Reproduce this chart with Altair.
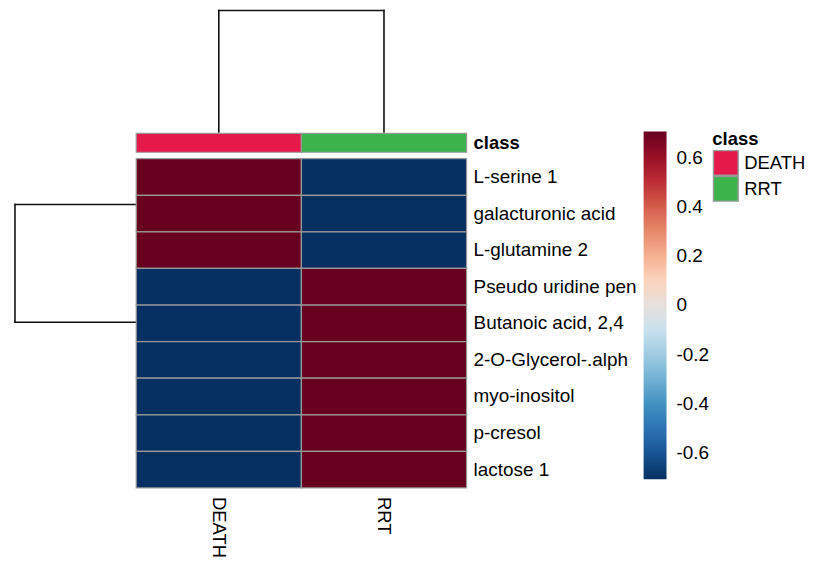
import altair as alt
import pandas as pd

# ---------------- data ----------------
columns = ["DEATH", "RRT"]
classes = ["DEATH", "RRT"]
class_colors = ["#E6194B", "#3CB44B"]
rows = [
    "L-serine 1", "galacturonic acid", "L-glutamine 2", "Pseudo uridine pen",
    "Butanoic acid, 2,4", "2-O-Glycerol-.alph", "myo-inositol", "p-cresol", "lactose 1",
]
death_vals = [0.7071, 0.7071, 0.7071, -0.7071, -0.7071, -0.7071, -0.7071, -0.7071, -0.7071]
rrt_vals = [-0.7071, -0.7071, -0.7071, 0.7071, 0.7071, 0.7071, 0.7071, 0.7071, 0.7071]
rdbu_rev = ["#053061", "#2166AC", "#4393C3", "#92C5DE", "#D1E5F0",
            "#FDDBC7", "#F4A582", "#D6604D", "#B2182B", "#67001F"]
legend_ticks = [0.6, 0.4, 0.2, 0, -0.2, -0.4, -0.6]

# hclust-style merges: (left, right, height); negative = leaf (1-based), positive = merge (1-based)
col_merges = [(-1, -2, 1.0)]
row_merges = [(-2, -3, 0.0), (-1, 1, 0.0), (-8, -9, 0.0), (-7, 3, 0.0),
              (-6, 4, 0.0), (-5, 5, 0.0), (-4, 6, 0.0), (2, 7, 1.0)]

# ---------------- layout (in cell units) ----------------
W, H = 798, 546
X_DOM = [-0.7762, -0.7762 + W / 165.8]
Y_DOM = [-4.0913, -4.0913 + H / 36.72]
ANN_Y0, ANN_Y1 = -0.694, -0.177
COL_TREE_BASE, COL_TREE_SCALE = -0.730, 3.32
ROW_TREE_SCALE = 0.734
FONT = "Liberation Sans"
FS = 19.0


def tree_segments(merges):
    pos, hgt, segs = {}, {}, []

    def get(c):
        if c < 0:
            return -c - 0.5, 0.0
        return pos[c], hgt[c]

    for i, (a, b, h) in enumerate(merges, start=1):
        pa, ha = get(a)
        pb, hb = get(b)
        if h > ha:
            segs.append((pa, ha, pa, h))
        if h > hb:
            segs.append((pb, hb, pb, h))
        if h > 0:
            segs.append((pa, h, pb, h))
        pos[i], hgt[i] = (pa + pb) / 2, h
    return segs


seg_rows = []
for p1, h1, p2, h2 in tree_segments(col_merges):
    seg_rows.append(dict(x=p1, y=COL_TREE_BASE - h1 * COL_TREE_SCALE,
                         x2=p2, y2=COL_TREE_BASE - h2 * COL_TREE_SCALE))
for p1, h1, p2, h2 in tree_segments(row_merges):
    seg_rows.append(dict(x=-h1 * ROW_TREE_SCALE, y=p1, x2=-h2 * ROW_TREE_SCALE, y2=p2))
seg_df = pd.DataFrame(seg_rows)

cells = []
for ci, (cname, vals) in enumerate(zip(columns, [death_vals, rrt_vals])):
    for ri, (rname, v) in enumerate(zip(rows, vals)):
        cells.append(dict(x=ci, x2=ci + 1, y=ri, y2=ri + 1, value=v, row=rname, col=cname))
cell_df = pd.DataFrame(cells)

ann_df = pd.DataFrame([dict(x=i, x2=i + 1, y=ANN_Y0, y2=ANN_Y1, cls=c) for i, c in enumerate(classes)])
rowlab_df = pd.DataFrame([dict(x=len(columns), y=i + 0.5, label=r) for i, r in enumerate(rows)])
collab_df = pd.DataFrame([dict(x=i + 0.5, y=len(rows), label=c) for i, c in enumerate(columns)])
anntitle_df = pd.DataFrame([dict(x=len(columns), y=(ANN_Y0 + ANN_Y1) / 2, label="class")])

xs = alt.Scale(domain=X_DOM, nice=False, zero=False)
ys = alt.Scale(domain=Y_DOM, nice=False, zero=False, reverse=True)


def X(f="x"):
    return alt.X(f + ":Q", scale=xs, axis=None)


def Y(f="y"):
    return alt.Y(f + ":Q", scale=ys, axis=None)


heat = alt.Chart(cell_df).mark_rect(stroke="#999999", strokeWidth=1.2).encode(
    x=X(), x2="x2", y=Y(), y2="y2",
    color=alt.Color("value:Q",
                    scale=alt.Scale(domain=[-0.7071, 0.7071], range=rdbu_rev,
                                    interpolate="rgb"),
                    legend=alt.Legend(orient="none", legendX=638, legendY=123,
                                      direction="vertical", title=None,
                                      gradientLength=349, gradientThickness=23,
                                      gradientStrokeWidth=0,
                                      values=legend_ticks,
                                      labelExpr="'' + datum.value",
                                      labelFont=FONT, labelFontSize=FS,
                                      labelColor="#000000", labelOffset=10)),
)

ann = alt.Chart(ann_df).mark_rect(stroke="#999999", strokeWidth=1.2).encode(
    x=X(), x2="x2", y=Y(), y2="y2",
    color=alt.Color("cls:N",
                    scale=alt.Scale(domain=classes, range=class_colors),
                    legend=alt.Legend(orient="none", legendX=707, legendY=121,
                                      title="class", titleFont=FONT, titleFontSize=18.5,
                                      titleFontWeight="bold", titleColor="#000000",
                                      titlePadding=2,
                                      symbolType="square", symbolSize=620,
                                      symbolStrokeColor="#999999", symbolStrokeWidth=1.5,
                                      symbolOpacity=1, rowPadding=0, clipHeight=26,
                                      labelFont=FONT, labelFontSize=18.5,
                                      labelColor="#000000", labelOffset=5)),
)

tree = alt.Chart(seg_df).mark_rule(color="#111111", strokeWidth=1.6, strokeCap="square").encode(
    x=X(), y=Y(), x2="x2", y2="y2"
)

rowlab = alt.Chart(rowlab_df).mark_text(
    align="left", baseline="middle", dx=7, font=FONT, fontSize=FS, color="#000000"
).encode(x=X(), y=Y(), text="label:N")

anntitle = alt.Chart(anntitle_df).mark_text(
    align="left", baseline="middle", dx=7, font=FONT, fontSize=18.5,
    fontWeight="bold", color="#000000"
).encode(x=X(), y=Y(), text="label:N")

collab = alt.Chart(collab_df).mark_text(
    align="left", baseline="middle", angle=90, dx=9, font=FONT, fontSize=18.5, color="#000000"
).encode(x=X(), y=Y(), text="label:N")

chart = alt.layer(tree, ann, heat, rowlab, anntitle, collab).resolve_scale(
    color="independent"
).properties(width=W, height=H, padding=0).configure_view(strokeWidth=0)

chart.save("out.html", embed_options={"renderer": "svg", "actions": False})
